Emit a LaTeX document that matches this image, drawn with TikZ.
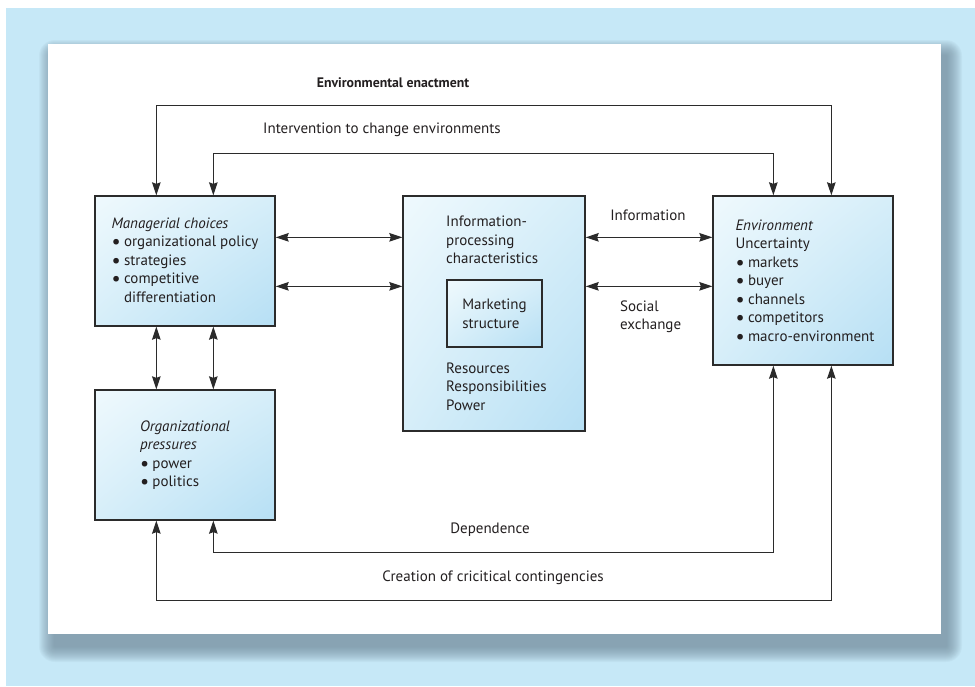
\documentclass[tikz,border=0pt]{standalone}
\usepackage{fontspec}
\setmainfont{PT Sans}
\usetikzlibrary{arrows.meta,shadings}
\definecolor{bgblue}{HTML}{C6E8F7}
\definecolor{shadowc}{HTML}{6F8898}
\definecolor{boxtl}{HTML}{EFF9FD}
\definecolor{boxmid}{HTML}{D6EEF9}
\definecolor{boxbr}{HTML}{B6DFF4}
\definecolor{linec}{HTML}{2B2B2B}
\definecolor{txt}{HTML}{231F20}
\newcommand\mybul{\raisebox{-0.13em}{\scalebox{1.35}{\textbullet}}\hspace{0.22em}}
\tikzset{
  box/.style={draw=linec, line width=1.3pt, rectangle, inner sep=0pt,
    upper left=boxtl, lower right=boxbr, upper right=boxmid, lower left=boxmid},
  lbl/.style={inner sep=0pt, text=txt, font=\fontsize{15}{18.5}\selectfont, align=left},
  conn/.style={draw=linec, line width=1.3pt, {Stealth[length=13pt,width=8.5pt,inset=1.5pt]}-{Stealth[length=13pt,width=8.5pt,inset=1.5pt]}}
}
\begin{document}
\begin{tikzpicture}[x=1pt,y=-1pt]
\useasboundingbox (0,0) rectangle (975,686);
\fill[white] (0,0) rectangle (975,686);
\fill[bgblue] (6,8) rectangle (975,686);
% shadow
\foreach \k in {1,...,16}{
  \fill[shadowc, opacity=0.065, rounded corners=\k pt] (55-\k,56-\k) rectangle (946+\k,646+\k);
}
\fill[white] (48,44) rectangle (941,634);

% boxes
\node[box, minimum width=180pt, minimum height=130pt] (mgr) at (185,261) {};
\node[box, minimum width=180pt, minimum height=130pt] (org) at (185,455) {};
\node[box, minimum width=182pt, minimum height=235pt] (mid) at (494,313.5) {};
\node[box, minimum width=95pt, minimum height=67pt] (mkt) at (494.5,313.5) {};
\node[box, minimum width=180pt, minimum height=169pt] (env) at (803,280.5) {};

% box texts
\node[lbl] (mgrtxt) at (185,261) {\textit{Managerial choices}\\
\mybul organizational policy\\
\mybul strategies\\
\mybul competitive\\
\phantom{\mybul}differentiation};
\node[lbl] (orgtxt) at (185,455) {\textit{Organizational}\\
\textit{pressures}\\
\mybul power\\
\mybul politics};
\node[lbl, anchor=west] (midtop) at (446,240) {Information-\\processing\\characteristics};
\node[lbl] (mkttxt) at (494.5,314) {Marketing\\structure};
\node[lbl, anchor=west] (midbot) at (446,386.5) {Resources\\Responsibilities\\Power};
\node[lbl] (envtxt) at (805,281.5) {\textit{Environment}\\
Uncertainty\\
\mybul markets\\
\mybul buyer\\
\mybul channels\\
\mybul competitors\\
\mybul macro-environment};

% connector labels
\node[lbl, font=\bfseries\fontsize{13.8}{17}\selectfont] (ttl) at (393,83) {Environmental enactment};
\node[lbl] (intv) at (382,130) {Intervention to change environments};
\node[lbl] (info) at (648,215) {Information};
\node[lbl, anchor=west] (soc) at (620,316.5) {Social\\exchange};
\node[lbl] (dep) at (490,530) {Dependence};
\node[lbl] (crea) at (493,578) {Creation of cricitical contingencies};

% connectors
\draw[conn] ([xshift=62pt]mgr.north west) -- ++(0,-90) -| ([xshift=119pt]env.north west);
\draw[conn] ([xshift=119pt]mgr.north west) -- ++(0,-42) -| ([xshift=61pt]env.north west);
\draw[conn] ([xshift=62pt]mgr.south west) -- ([xshift=62pt]org.north west);
\draw[conn] ([xshift=119pt]mgr.south west) -- ([xshift=119pt]org.north west);
\draw[conn] ([yshift=-42pt]mgr.north east) -- ([yshift=-42pt]mid.north west);
\draw[conn] ([yshift=-91pt]mgr.north east) -- ([yshift=-91pt]mid.north west);
\draw[conn] ([yshift=-42pt]mid.north east) -- ([yshift=-42pt]env.north west);
\draw[conn] ([yshift=-91pt]mid.north east) -- ([yshift=-91pt]env.north west);
\draw[conn] ([xshift=119pt]org.south west) -- ++(0,32) -| ([xshift=61pt]env.south west);
\draw[conn] ([xshift=62pt]org.south west) -- ++(0,80) -| ([xshift=119pt]env.south west);
\end{tikzpicture}
\end{document}
